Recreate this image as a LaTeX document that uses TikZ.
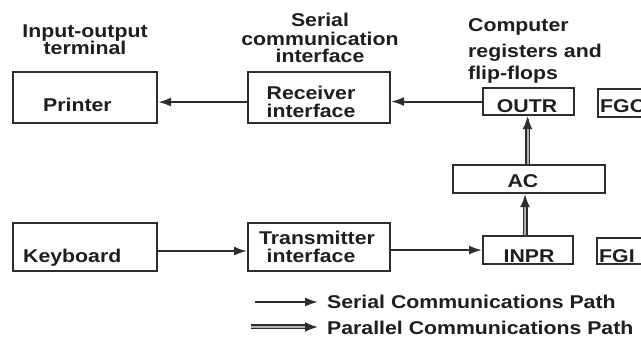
\documentclass[tikz,border=0pt]{standalone}
\usepackage{fontspec}
\newfontfamily\diagfont{Liberation Sans}[FakeStretch=1.15]
\usetikzlibrary{arrows.meta}
\definecolor{linec}{HTML}{2E2E2E}
\definecolor{textc}{HTML}{1E1E1E}
\begin{document}
\begin{tikzpicture}[x=1pt,y=-1pt,
  box/.style={draw=linec, line width=2.1pt, inner sep=0pt, anchor=north west},
  txt/.style={inner sep=0pt, text=textc, font=\diagfont\bfseries\fontsize{18.5}{18.5}\selectfont},
  serial/.style={draw=linec, line width=2pt, -{Latex[length=13pt,width=9pt]}},
  parallel/.style={draw=linec, line width=1.5pt, double=gray!60, double distance=2pt, shorten >=10pt},
  ptip/.style={draw=linec, line width=2pt, -{Latex[length=13pt,width=10pt]}}
]
\useasboundingbox (0,0) rectangle (641,339);
\clip (0,0) rectangle (641,339);
\fill[white] (0,0) rectangle (641,339);

% headings
\node[txt, anchor=base] (h1a) at (85,38) {Input-output};
\node[txt, anchor=base] (h1b) at (85,55) {terminal};
\node[txt, anchor=base] (h2a) at (320,27) {Serial};
\node[txt, anchor=base] (h2b) at (320,45.5) {communication};
\node[txt, anchor=base] (h2c) at (320,63) {interface};
\node[txt, anchor=base west] (h3a) at (468,32) {Computer};
\node[txt, anchor=base west] (h3b) at (468,58) {registers and};
\node[txt, anchor=base west] (h3c) at (468,80) {flip-flops};

% boxes
\node[box, minimum width=144pt, minimum height=51pt] (printer) at (12,71) {};
\node[box, minimum width=142pt, minimum height=51pt] (recv) at (247,71) {};
\node[box, minimum width=91pt, minimum height=27pt] (outr) at (482,87) {};
\node[box, minimum width=80pt, minimum height=28pt] (fgo) at (597,88) {};
\node[box, minimum width=152pt, minimum height=28pt] (ac) at (452,164) {};
\node[box, minimum width=144pt, minimum height=48pt] (keyb) at (12,222) {};
\node[box, minimum width=142pt, minimum height=48pt] (trans) at (247,222) {};
\node[box, minimum width=90pt, minimum height=28pt] (inpr) at (482,235) {};
\node[box, minimum width=80pt, minimum height=26pt] (fgi) at (596,237) {};

% box texts
\node[txt, anchor=base west] (tprinter) at (43,112) {Printer};
\node[txt, anchor=base] (trecv1) at (311,100) {Receiver};
\node[txt, anchor=base] (trecv2) at (311,118) {interface};
\node[txt, anchor=base] (toutr) at (527,113) {OUTR};
\node[txt, anchor=base west] (tfgo) at (600,113) {FGO};
\node[txt, anchor=base] (tac) at (523,188) {AC};
\node[txt, anchor=base west] (tkeyb) at (23,263) {Keyboard};
\node[txt, anchor=base] (ttrans1) at (317,245) {Transmitter};
\node[txt, anchor=base] (ttrans2) at (311,263) {interface};
\node[txt, anchor=base] (tinpr) at (529,263) {INPR};
\node[txt, anchor=base west] (tfgi) at (599,263) {FGI};

% serial connectors
\draw[serial] ([yshift=-4.5pt]recv.west) -- ([yshift=-4.5pt]printer.east);
\draw[serial] (outr.west) -- (recv.east |- outr.west);
\draw[serial] ([yshift=-4pt]keyb.east) -- ([yshift=-4pt]trans.west);
\draw[serial] (trans.east |- inpr.west) -- (inpr.west);

% parallel connectors
\coordinate (p1s) at ([xshift=-1.5pt]ac.north);
\coordinate (p1e) at ([xshift=-1.5pt]ac.north |- outr.south);
\draw[parallel] (p1s) -- (p1e);
\draw[ptip] ([yshift=-3pt]p1e) -- (p1e);
\coordinate (p2s) at ([xshift=-4pt]ac.south |- inpr.north);
\coordinate (p2e) at ([xshift=-4pt]ac.south);
\draw[parallel] (p2s) -- (p2e);
\draw[ptip] ([yshift=-3pt]p2e) -- (p2e);

% legend
\coordinate (ls1) at (255,302);
\coordinate (ls2) at (318,302);
\coordinate (lp1) at (251,327);
\coordinate (lp2) at (318,327);
\draw[serial] (ls1) -- (ls2);
\draw[parallel] (lp1) -- (lp2);
\draw[ptip] ([xshift=-3pt]lp2) -- (lp2);
\node[txt, anchor=base west] (lserial) at (327,309) {Serial Communications Path};
\node[txt, anchor=base west] (lparallel) at (327,335) {Parallel Communications Path};
\end{tikzpicture}
\end{document}
